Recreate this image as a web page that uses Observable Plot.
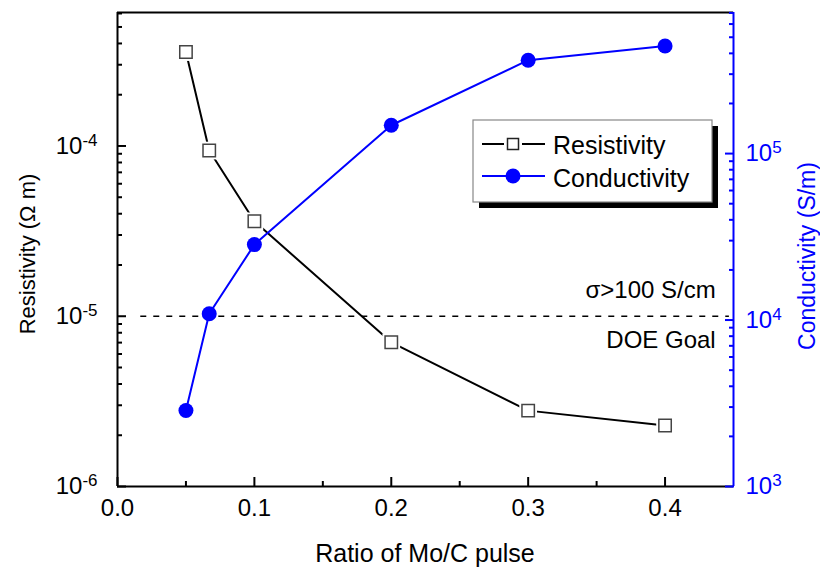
<!DOCTYPE html>
<html><head><meta charset="utf-8">
<script src="https://cdn.jsdelivr.net/npm/d3@7"></script>
<script src="https://cdn.jsdelivr.net/npm/@observablehq/plot@0.6"></script>
<style>
body{margin:0;background:#fff}
#chart{position:relative;width:820px;height:569px}
</style>
</head><body><div id="chart"></div>
<script>
// ---- data ----
const ratio = [0.05, 0.067, 0.1, 0.2, 0.3, 0.4];
const resistivity = [3.56e-4, 9.4e-5, 3.61e-5, 7.03e-6, 2.79e-6, 2.28e-6];   // Ω m
const conductivity = [2.86e3, 1.09e4, 2.84e4, 1.48e5, 3.64e5, 4.43e5];      // S/m
const xTicks = [0, 0.1, 0.2, 0.3, 0.4];
const xMinorTicks = [0.05, 0.15, 0.25, 0.35];
const leftTicks = [1e-6, 1e-5, 1e-4];
const rightTicks = [1e3, 1e4, 1e5];
const goalValue = [1e-5];
const goalSpan = [0.017, 0.447];
const goalLabels = ["σ>100 S/cm", "DOE Goal"];
const goalLabelX = 0.437;
const xDomain = [0, 0.45];
const leftDomain = [1e-6, 6.08e-4];
const rightDomain = [1e3, 7.04e5];
const seriesNames = ["Resistivity", "Conductivity"];
const xTitle = "Ratio of Mo/C pulse";
const leftTitle = "Resistivity (Ω m)";
const rightTitle = "Conductivity (S/m)";

// map right-axis (conductivity) values onto the shared y scale
const lr = Math.log(leftDomain[1] / leftDomain[0]);
const rr = Math.log(rightDomain[1] / rightDomain[0]);
const c2y = c => leftDomain[0] * Math.exp(Math.log(c / rightDomain[0]) / rr * lr);

const minorLog = (lo, hi) => {
  const out = [];
  for (let e = Math.floor(Math.log10(lo)); e <= Math.ceil(Math.log10(hi)); e++)
    for (let m = 2; m <= 9; m++) { const v = m * Math.pow(10, e); if (v > lo * 1.0001 && v < hi * 0.9999) out.push(v); }
  return out;
};
const leftMinor = minorLog(leftDomain[0], leftDomain[1]);
const rightMinor = minorLog(rightDomain[0], rightDomain[1]);

const resData = ratio.map((x, i) => ({x, y: resistivity[i]}));
const conData = ratio.map((x, i) => ({x, y: c2y(conductivity[i])}));
const goalData = goalValue.map(v => ({y: v, x1: goalSpan[0], x2: goalSpan[1]}));
const fmtExp = d => `10^${Math.round(Math.log10(d))}`;
const BLUE = "#0000ff";

const plot = Plot.plot({
  width: 820, height: 569,
  marginLeft: 117, marginRight: 87, marginTop: 12, marginBottom: 83,
  style: {fontFamily: "'Liberation Sans', Arial, sans-serif", fontSize: "24px", background: "white", color: "black", overflow: "visible"},
  x: {domain: xDomain},
  y: {type: "log", domain: leftDomain},
  marks: [
    Plot.ruleY(goalData, {y: "y", x1: "x1", x2: "x2", stroke: "black", strokeWidth: 1.5, strokeDasharray: "6,7"}),
    Plot.text([goalLabels[0]], {x: () => goalLabelX, y: () => goalValue[0], text: d => d, textAnchor: "end", dy: -26, fontSize: 24}),
    Plot.text([goalLabels[1]], {x: () => goalLabelX, y: () => goalValue[0], text: d => d, textAnchor: "end", dy: 24, fontSize: 24}),
    // resistivity
    Plot.line(resData, {x: "x", y: "y", stroke: "black", strokeWidth: 2}),
    Plot.dot(resData, {x: "x", y: "y", symbol: "square", r: 10, fill: "white", stroke: "none"}),
    Plot.dot(resData, {x: "x", y: "y", symbol: "square", r: 7, fill: "white", stroke: "#444", strokeWidth: 1.5}),
    // conductivity
    Plot.line(conData, {x: "x", y: "y", stroke: BLUE, strokeWidth: 2}),
    Plot.dot(conData, {x: "x", y: "y", r: 7.5, fill: BLUE, stroke: "none"}),
    // frame
    Plot.ruleX([xDomain[0]], {stroke: "black", strokeWidth: 2}),
    Plot.ruleY([leftDomain[0]], {stroke: "black", strokeWidth: 2}),
    Plot.ruleY([leftDomain[1]], {stroke: "black", strokeWidth: 2}),
    Plot.ruleX([xDomain[1]], {stroke: BLUE, strokeWidth: 2}),
    // axes
    Plot.axisX(xTicks, {anchor: "bottom", tickSize: -9, tickPadding: 21, tickFormat: d3.format(".1f"), label: null, strokeWidth: 2}),
    Plot.axisX(xMinorTicks, {anchor: "bottom", tickSize: -5, tickFormat: () => "", label: null, strokeWidth: 2}),
    Plot.axisY(leftTicks, {anchor: "left", tickSize: -9, tickPadding: 29, tickFormat: fmtExp, label: null, strokeWidth: 2}),
    Plot.axisY(leftMinor, {anchor: "left", tickSize: -5, tickFormat: () => "", label: null, strokeWidth: 2}),
    Plot.axisY(rightTicks.map(c2y), {anchor: "right", tickSize: -9, tickFormat: () => "", label: null, strokeWidth: 2, color: BLUE}),
    Plot.axisY(rightMinor.map(c2y), {anchor: "right", tickSize: -5, tickFormat: () => "", label: null, strokeWidth: 2, color: BLUE}),
    Plot.text(rightTicks, {x: () => xDomain[1], y: d => c2y(d), text: fmtExp, dx: 12, textAnchor: "start", fill: BLUE, fontSize: 24})
  ]
});
document.getElementById("chart").appendChild(plot);

const svg = d3.select(plot);
// superscripts for the 10^n tick labels
svg.selectAll("text").each(function () {
  const t = this.textContent;
  if (!t.includes("^")) return;
  const [b, e] = t.split("^");
  const sel = d3.select(this);
  sel.text(null);
  sel.append("tspan").text(b);
  sel.append("tspan").attr("dy", -8).attr("font-size", 17).text(e);
});

const font = "'Liberation Sans', Arial, sans-serif";
// axis titles
svg.append("text").attr("x", 425).attr("y", 562).attr("text-anchor", "middle")
  .attr("font-family", font).attr("font-size", 25).attr("fill", "black").text(xTitle);
svg.append("text").attr("transform", "translate(35,254) rotate(-90)").attr("text-anchor", "middle")
  .attr("font-family", font).attr("font-size", 22).attr("fill", "black").text(leftTitle);
svg.append("text").attr("transform", "translate(815,256) rotate(-90)").attr("text-anchor", "middle")
  .attr("font-family", font).attr("font-size", 23).attr("fill", BLUE).text(rightTitle);

// legend
const lg = svg.append("g");
lg.append("rect").attr("x", 479).attr("y", 126).attr("width", 239).attr("height", 82).attr("fill", "black");
lg.append("rect").attr("x", 473).attr("y", 120).attr("width", 239).attr("height", 82).attr("fill", "white").attr("stroke", "#888").attr("stroke-width", 1.2);
// row 1
lg.append("line").attr("x1", 482).attr("x2", 545).attr("y1", 144).attr("y2", 144).attr("stroke", "black").attr("stroke-width", 2);
lg.append("rect").attr("x", 504).attr("y", 135).attr("width", 18).attr("height", 18).attr("fill", "white");
lg.append("rect").attr("x", 507.5).attr("y", 138.5).attr("width", 11).attr("height", 11).attr("fill", "white").attr("stroke", "#222").attr("stroke-width", 1.5);
lg.append("text").attr("x", 553).attr("y", 154).attr("text-anchor", "start").attr("font-family", font).attr("font-size", 25).attr("fill", "black").text(seriesNames[0]);
// row 2
lg.append("line").attr("x1", 482).attr("x2", 545).attr("y1", 176).attr("y2", 176).attr("stroke", BLUE).attr("stroke-width", 2);
lg.append("circle").attr("cx", 513).attr("cy", 176).attr("r", 7.5).attr("fill", BLUE);
lg.append("text").attr("x", 553).attr("y", 187).attr("text-anchor", "start").attr("font-family", font).attr("font-size", 25).attr("fill", "black").text(seriesNames[1]);
</script>
</body></html>
